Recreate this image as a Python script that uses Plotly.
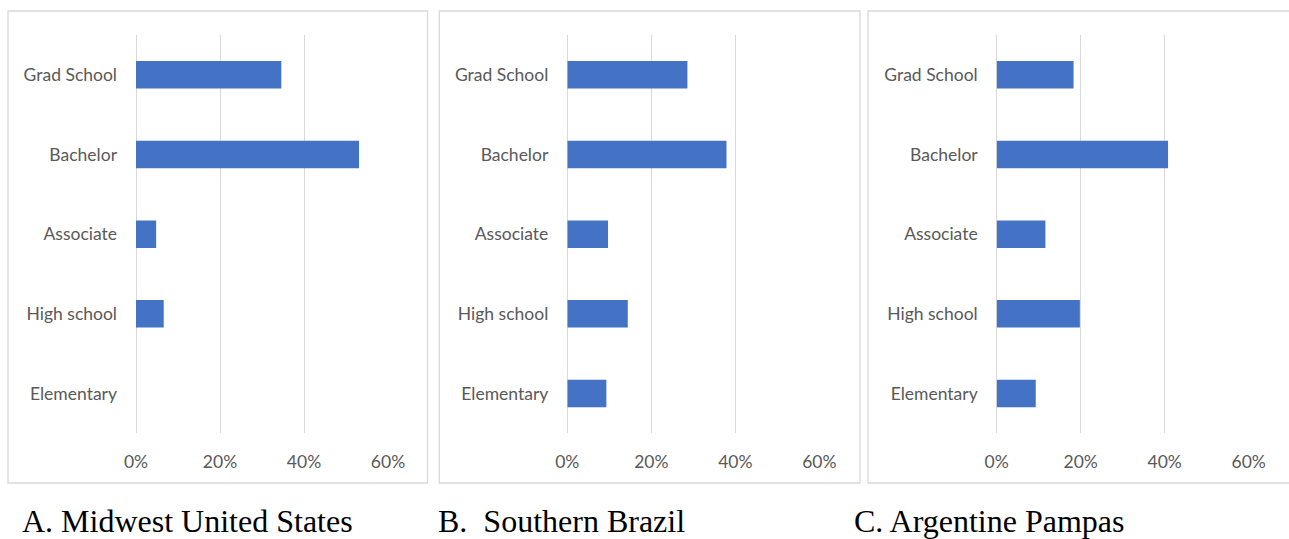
import plotly.graph_objects as go

W, H = 1289, 539

categories = ["Elementary", "High school", "Associate", "Bachelor", "Grad School"]

midwest_us = [0.0, 0.066, 0.048, 0.531, 0.346]
southern_brazil = [0.093, 0.144, 0.097, 0.379, 0.286]
argentine_pampas = [0.093, 0.198, 0.116, 0.408, 0.183]

captions = ["A. Midwest United States", "B.  Southern Brazil", "C. Argentine Pampas"]
x_ticks = [0, 0.2, 0.4, 0.6]
x_tick_text = ["0%", "20%", "40%", "60%"]

series = [midwest_us, southern_brazil, argentine_pampas]

# pixel geometry of each panel: plot area left/right, frame left/right, caption x
panels = [
    dict(plot=(136, 388), frame=(8, 427.5), cap_x=21),
    dict(plot=(567.3, 819.3), frame=(439.3, 860), cap_x=437),
    dict(plot=(996.7, 1248.7), frame=(868, 1291), cap_x=853),
]
plot_top, plot_bottom = 35, 433.3
frame_top, frame_bottom = 11, 483


def px(x):
    return x / W


def py(y):
    return 1 - y / H


fig = go.Figure()
tick_font = dict(family="Lato", size=17.5, color="#595959")

for i, (vals, p) in enumerate(zip(series, panels)):
    n = i + 1
    xa = "x" if n == 1 else f"x{n}"
    ya = "y" if n == 1 else f"y{n}"
    fig.add_trace(go.Bar(
        x=vals, y=categories, orientation="h",
        marker=dict(color="#4472C4", line=dict(width=0)),
        xaxis=xa, yaxis=ya, showlegend=False,
    ))
    fig.update_layout(**{
        f"xaxis{'' if n == 1 else n}": dict(
            domain=[px(p["plot"][0]), px(p["plot"][1])],
            anchor=ya, range=[0, 0.6], automargin=False,
            tickvals=x_ticks, ticktext=x_tick_text,
            showgrid=True, gridcolor="#d9d9d9", gridwidth=1.3,
            zeroline=True, zerolinecolor="#d9d9d9", zerolinewidth=1.3,
            showline=False, ticks="", tickfont=tick_font,
            ticklabelstandoff=16, fixedrange=True,
        ),
        f"yaxis{'' if n == 1 else n}": dict(
            domain=[py(plot_bottom), py(plot_top)],
            anchor=xa, type="category", automargin=False,
            categoryorder="array", categoryarray=categories,
            showgrid=False, zeroline=False, showline=False, ticks="",
            tickfont=tick_font, ticklabelstandoff=18, fixedrange=True,
        ),
    })
    fig.add_shape(
        type="rect", xref="paper", yref="paper",
        x0=px(p["frame"][0]), x1=px(p["frame"][1]),
        y0=py(frame_bottom), y1=py(frame_top),
        line=dict(color="#d9d9d9", width=1.3), fillcolor="rgba(0,0,0,0)",
        layer="below",
    )
    fig.add_annotation(
        text=captions[i], xref="paper", yref="paper",
        x=px(p["cap_x"]), y=py(521), xanchor="left", yanchor="middle",
        showarrow=False, borderpad=0,
        font=dict(family="Liberation Serif", size=32, color="#000000"),
    )

fig.update_layout(
    width=W, height=H,
    margin=dict(l=0, r=0, t=0, b=0),
    paper_bgcolor="white", plot_bgcolor="white",
    bargap=0.655,
)

fig.write_html(
    "out.html",
    config={"displayModeBar": False},
    post_script="document.body.style.margin='0';document.body.style.overflow='hidden';",
)
